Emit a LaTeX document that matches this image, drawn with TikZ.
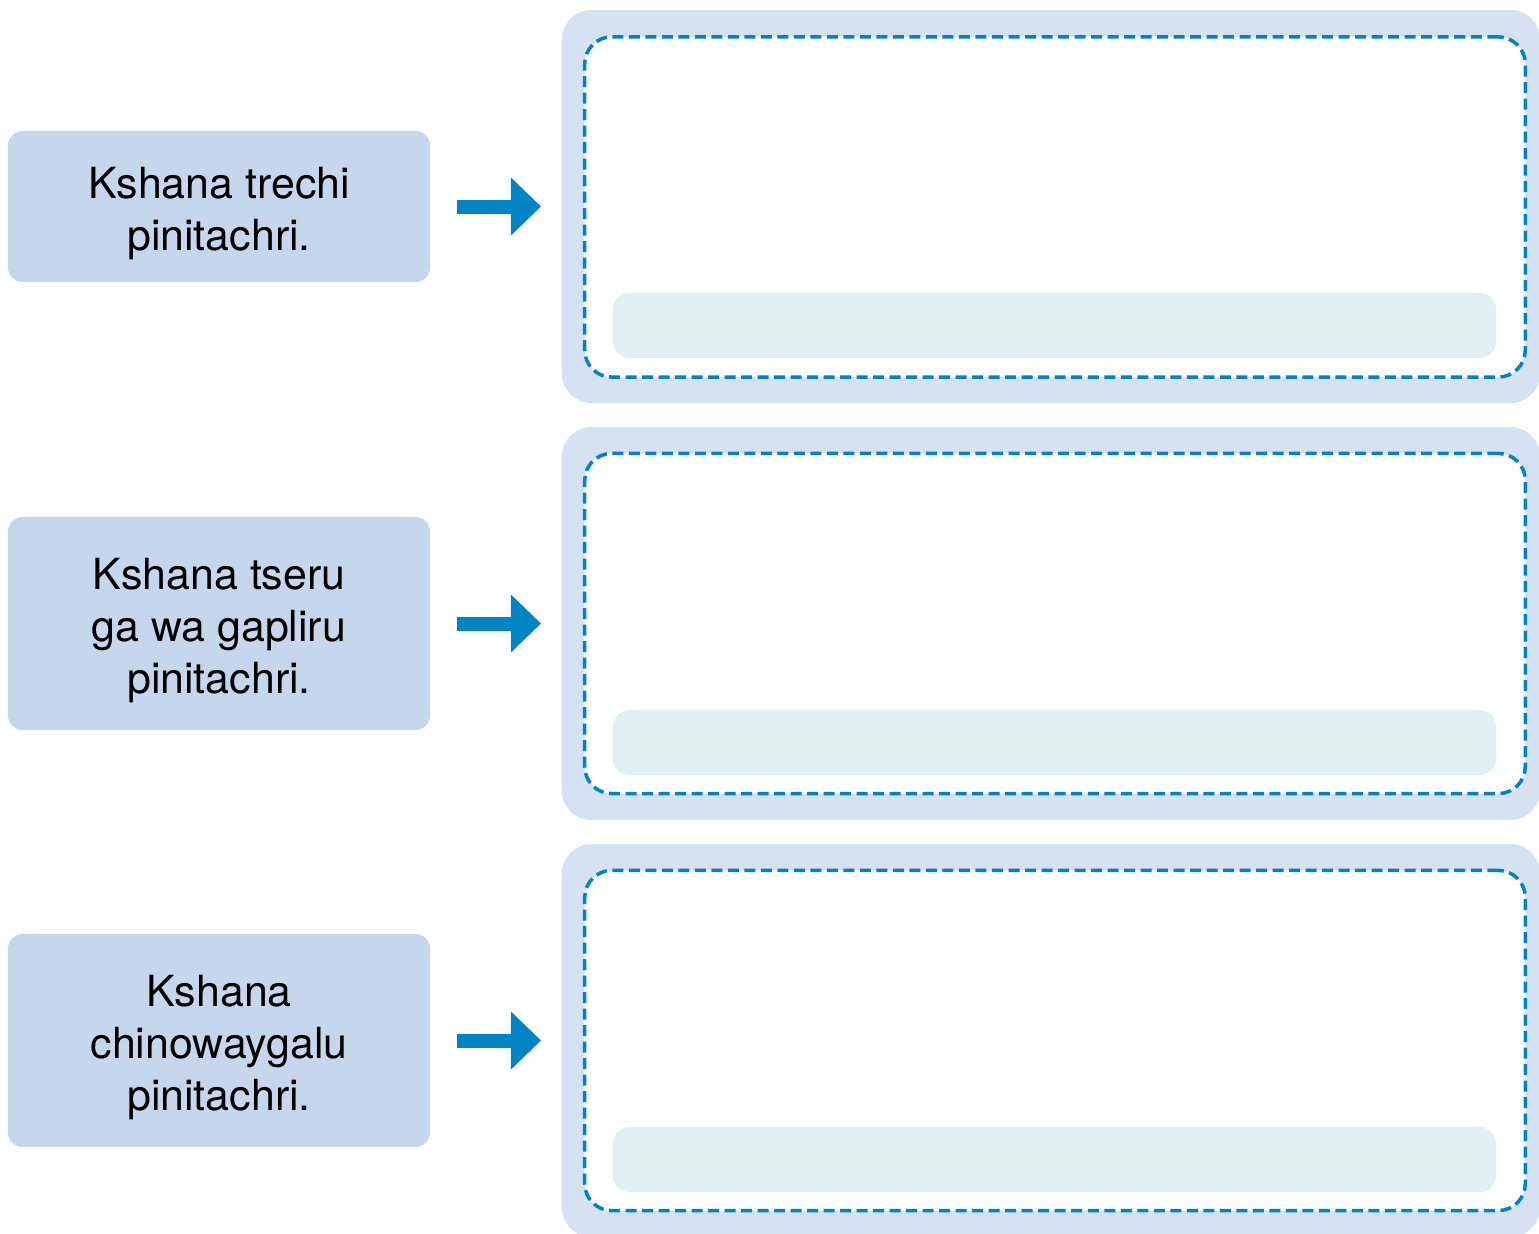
\documentclass[tikz,border=0pt]{standalone}
\usepackage{fontspec}
\setmainfont{TeX Gyre Heros}
\usepackage{xcolor}
\usepackage{tikz}
\usetikzlibrary{arrows.meta, positioning}
\definecolor{momentfill}{HTML}{C6D6EC}
\definecolor{framefill}{HTML}{D6E2F2}
\definecolor{barfill}{HTML}{E0EFEF}
\definecolor{arrowblue}{HTML}{0084C4}
\newcommand{\toplift}{\rule{0pt}{0.46cm}}
\tikzset{
  momentbox/.style={
    rounded corners=0.15cm, fill=momentfill, align=center,
    minimum width=4.22cm, inner sep=0pt,
    font=\fontsize{12.2}{14.8}\selectfont
  },
  answerframe/.style={
    rounded corners=0.3cm, fill=framefill, inner sep=0pt,
    minimum width=9.78cm, minimum height=3.93cm
  },
  answerdash/.style={
    draw=arrowblue, line width=1pt, dash pattern=on 0.11cm off 0.055cm,
    rounded corners=0.27cm, fill=white, inner sep=0pt,
    minimum width=9.4cm, minimum height=3.4cm
  },
  answerbar/.style={
    rounded corners=0.17cm, fill=barfill, inner sep=0pt,
    minimum width=8.83cm, minimum height=0.65cm
  },
  momentarrow/.style={
    -{Triangle[length=0.3cm, width=0.56cm]}, line width=0.14cm,
    draw=arrowblue, shorten <=0.26cm, shorten >=0.2cm
  },
}

\begin{document}
\begin{tikzpicture}[x=0.01cm, y=-0.01cm]
  \useasboundingbox (0,0) rectangle (1539,1233);

  % Moments
  \node[momentbox, minimum height=1.51cm] (m1) at (219,206.5)
    {\toplift Kshana trechi\\pinitachri.};
  \node[momentbox, minimum height=2.13cm] (m2) at (219,623.5)
    {\toplift Kshana tseru\\ga wa gapliru\\pinitachri.};
  \node[momentbox, minimum height=2.13cm] (m3) at (219,1040.5)
    {\toplift Kshana\\chinowaygalu\\pinitachri.};

  % Answer frames
  \node[answerframe] (f1) at (1051,206.5) {};
  \node[answerdash] (d1) at (1055,207) {};
  \node[answerbar] (b1) at (1054.5,325.5) {};

  \node[answerframe] (f2) at (1051,623.5) {};
  \node[answerdash] (d2) at (1055,623.5) {};
  \node[answerbar] (b2) at (1054.5,742.5) {};

  \node[answerframe] (f3) at (1051,1040.5) {};
  \node[answerdash] (d3) at (1055,1040.5) {};
  \node[answerbar] (b3) at (1054.5,1159.5) {};

  % Arrows
  \draw[momentarrow] (m1.east) -- (f1.west);
  \draw[momentarrow] (m2.east) -- (f2.west);
  \draw[momentarrow] (m3.east) -- (f3.west);
\end{tikzpicture}
\end{document}
